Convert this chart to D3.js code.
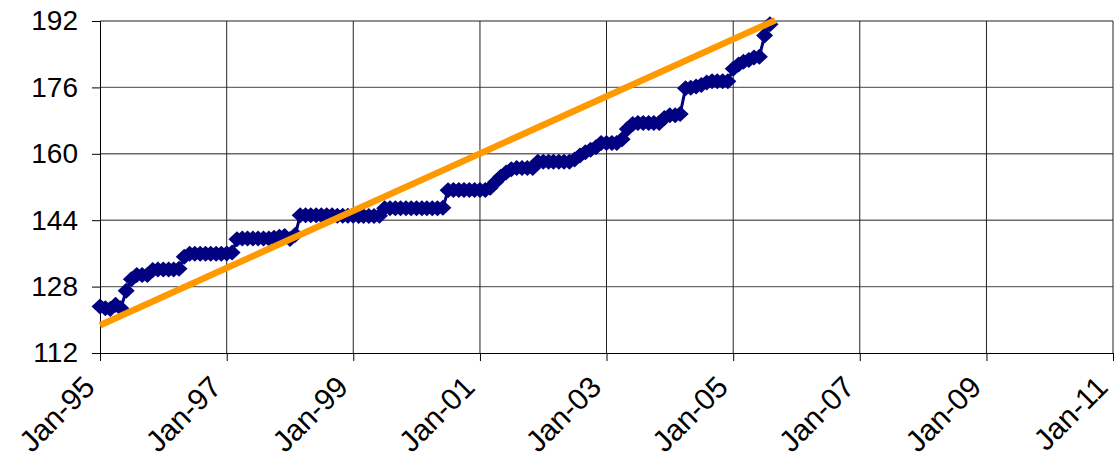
<!DOCTYPE html>
<html>
<head>
<meta charset="utf-8">
<script src="https://cdn.jsdelivr.net/npm/d3@7/dist/d3.min.js"></script>
<style>
  body { margin: 0; background: #fff; }
  svg text { font-family: "Liberation Sans", Arial, sans-serif; }
</style>
</head>
<body>
<svg id="chart"></svg>
<script>
// monthly series, Jan-95 .. Aug-05
var startMonth = "1995-01";
var seriesValues = [
    123.2, 122.8, 122.6, 123.6, 122.8, 127.0, 129.8, 130.8, 130.8, 130.8, 132.0, 132.1,
    132.1, 132.1, 132.1, 132.3, 135.2, 135.9, 135.9, 135.9, 135.9, 135.9, 135.9, 135.9,
    136.0, 136.2, 139.4, 139.6, 139.6, 139.6, 139.6, 139.6, 139.6, 139.8, 140.0, 140.2,
    139.5, 140.5, 145.2, 145.2, 145.2, 145.2, 145.2, 145.2, 145.2, 145.1, 145.1, 145.1,
    145.1, 145.0, 145.0, 145.0, 145.0, 145.1, 146.9, 146.9, 146.9, 146.9, 146.9, 146.9,
    146.9, 146.9, 146.9, 146.9, 146.9, 147.0, 151.2, 151.3, 151.3, 151.3, 151.3, 151.3,
    151.3, 151.3, 151.8, 153.2, 154.5, 155.5, 156.3, 156.6, 156.6, 156.6, 156.6, 158.1,
    158.1, 158.1, 158.1, 158.1, 158.1, 158.1, 158.6, 159.6, 160.4, 161.0, 161.6, 162.6,
    162.6, 162.6, 162.6, 163.5, 166.0, 167.2, 167.4, 167.4, 167.4, 167.4, 167.4, 168.6,
    169.3, 169.3, 169.6, 175.8, 175.9, 176.2, 176.6, 177.2, 177.5, 177.5, 177.5, 177.5,
    180.5, 181.5, 182.2, 182.6, 183.2, 183.4, 188.5, 191.2
];
// linear trend end points
var trendMonths = ["1995-01", "2005-09"];
var trendValues = [118.7, 192.2];

var yTicks = [112, 128, 144, 160, 176, 192];
var xTickYears = [1995, 1997, 1999, 2001, 2003, 2005, 2007, 2009, 2011];

var W = 1117, H = 466;
var margin = { top: 21, right: 4, bottom: 113, left: 100 };

var parseMonth = d3.timeParse("%Y-%m");
var t0 = parseMonth(startMonth);
var data = seriesValues.map((v, i) => ({ date: d3.timeMonth.offset(t0, i), value: v }));
var trend = trendMonths.map((m, i) => ({ date: parseMonth(m), value: trendValues[i] }));

var svg = d3.select("#chart").attr("width", W).attr("height", H);

var x = d3.scaleTime()
    .domain([new Date(1995, 0, 1), new Date(2011, 0, 1)])
    .range([margin.left, W - margin.right]);
var y = d3.scaleLinear()
    .domain([112, 192])
    .range([H - margin.bottom, margin.top]);

// horizontal grid
svg.append("g")
    .selectAll("line")
    .data(yTicks.slice(1))
    .join("line")
    .attr("x1", margin.left).attr("x2", W - margin.right)
    .attr("y1", d => y(d)).attr("y2", d => y(d))
    .attr("stroke", "#6a6a6a")
    .attr("stroke-width", 1.4);

// vertical grid
var xTicks = xTickYears.map(yr => new Date(yr, 0, 1));
svg.append("g")
    .selectAll("line")
    .data(xTicks.slice(1))
    .join("line")
    .attr("x1", d => x(d)).attr("x2", d => x(d))
    .attr("y1", y(112)).attr("y2", y(192))
    .attr("stroke", "#222")
    .attr("stroke-width", 1);

// y axis
var yAxis = svg.append("g")
    .attr("transform", `translate(${margin.left},0)`)
    .call(d3.axisLeft(y).tickValues(yTicks).tickSize(8).tickPadding(14));
yAxis.selectAll("text").attr("font-size", 28).attr("fill", "#000")
    .style("font-family", "'Liberation Sans', Arial, sans-serif");
yAxis.selectAll("line, path").attr("stroke", "#000");

// x axis
var xAxis = svg.append("g")
    .attr("transform", `translate(0,${y(112)})`)
    .call(d3.axisBottom(x).tickValues(xTicks).tickSize(8).tickFormat(d3.timeFormat("Jan-%y")));
xAxis.selectAll("line, path").attr("stroke", "#000");
xAxis.selectAll("text")
    .attr("font-size", 30).attr("fill", "#000")
    .style("font-family", "'Liberation Sans', Arial, sans-serif")
    .style("text-anchor", "end")
    .attr("dy", 0)
    .attr("y", 0)
    .attr("transform", "translate(-4,36) rotate(-45)");

// series line + diamond markers
svg.append("path")
    .datum(data)
    .attr("fill", "none")
    .attr("stroke", "#000080")
    .attr("stroke-width", 3)
    .attr("d", d3.line().x(d => x(d.date)).y(d => y(d.value)));

var rx = 8.5, ry = 8;
svg.append("g")
    .selectAll("path")
    .data(data)
    .join("path")
    .attr("transform", d => `translate(${x(d.date)},${y(d.value)})`)
    .attr("d", `M0,${-ry}L${rx},0L0,${ry}L${-rx},0Z`)
    .attr("fill", "#000080");

// trend line
svg.append("path")
    .datum(trend)
    .attr("fill", "none")
    .attr("stroke", "#ff9900")
    .attr("stroke-width", 6.5)
    .attr("d", d3.line().x(d => x(d.date)).y(d => y(d.value)));
</script>
</body>
</html>
